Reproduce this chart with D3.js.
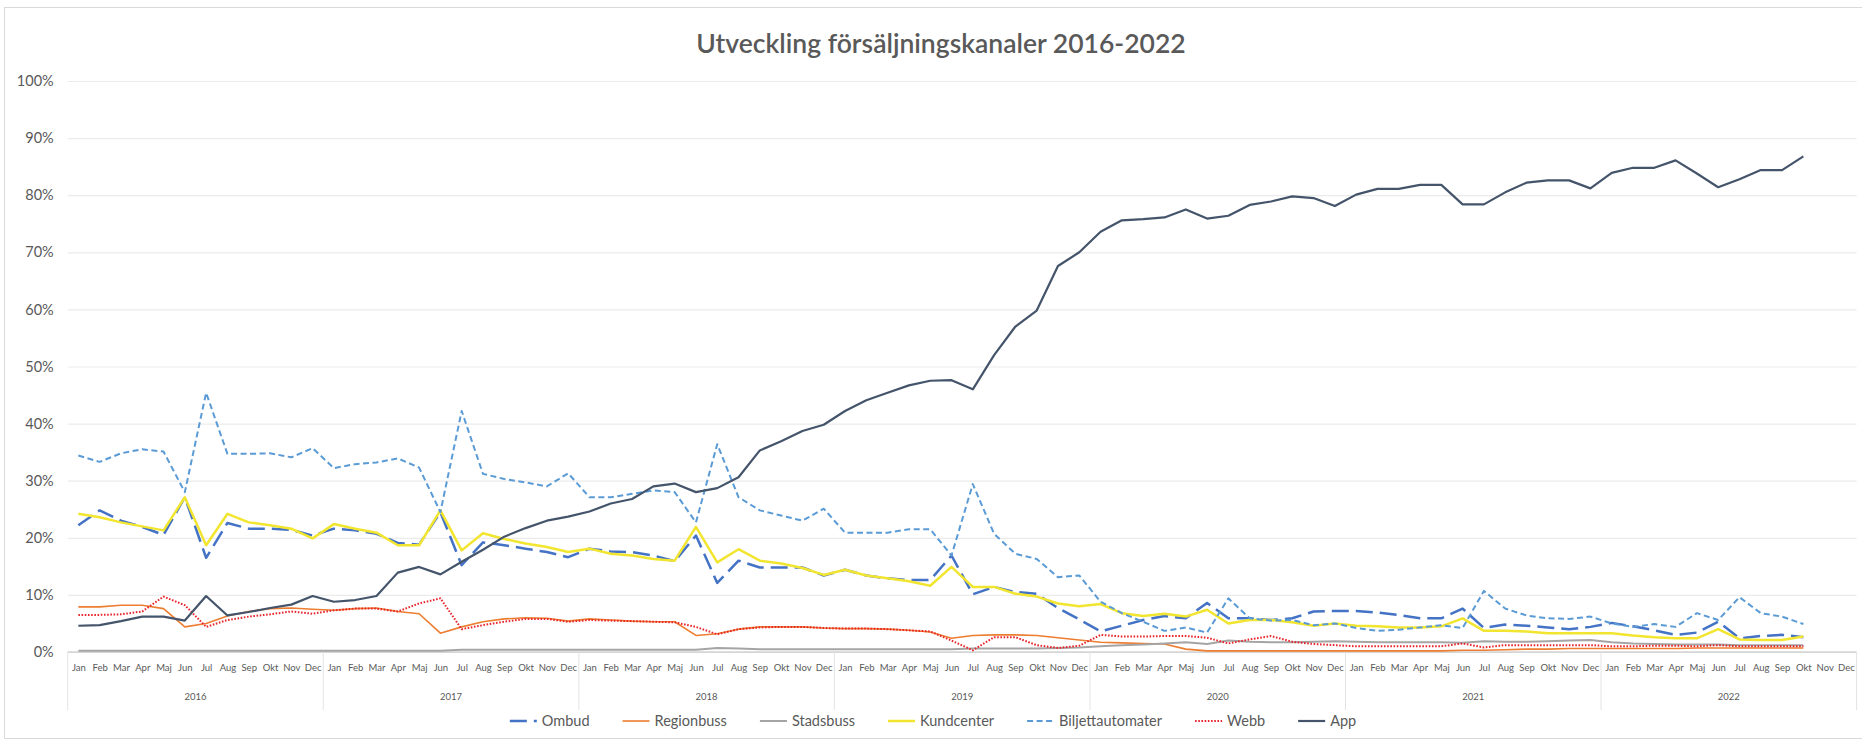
<!DOCTYPE html>
<html>
<head>
<meta charset="utf-8">
<script src="https://cdn.jsdelivr.net/npm/d3@7"></script>
<style>
  html, body { margin: 0; padding: 0; background: #fff; }
  svg { display: block; }
  text { font-family: Lato, "Open Sans", sans-serif; fill: #595959; }
</style>
</head>
<body>
<svg id="chart" width="1862" height="742"></svg>
<script>
// Month and year labels of the two-level category axis
const months = ["Jan","Feb","Mar","Apr","Maj","Jun","Jul","Aug","Sep","Okt","Nov","Dec"];
const years = ["2016","2017","2018","2019","2020","2021","2022"];
const yTicks = [0,10,20,30,40,50,60,70,80,90,100];

// Share of sales per channel, in percent, Jan 2016 – Okt 2022
const ombud = [
  22.2,24.8,23.0,21.9,20.5,27.1,16.5,22.6,21.6,21.6,21.4,20.4,
  21.6,21.3,20.7,19.1,18.8,24.5,15.2,19.2,18.7,18.1,17.5,16.6,
  18.1,17.6,17.5,16.9,15.9,20.4,12.1,16.0,14.8,14.8,14.8,13.4,
  14.4,13.4,12.9,12.6,12.6,16.9,10.1,11.4,10.5,10.2,7.7,5.7,
  3.6,4.6,5.6,6.3,5.9,8.6,5.9,5.9,5.6,5.9,7.1,7.2,
  7.2,6.9,6.5,5.9,5.9,7.6,4.2,4.8,4.6,4.3,4.0,4.4,
  5.1,4.5,3.8,3.0,3.4,5.3,2.4,2.8,3.0,2.6
];
const regionbuss = [
  7.9,7.9,8.2,8.2,7.6,4.4,5.0,6.3,7.1,7.6,7.7,7.5,
  7.3,7.6,7.7,7.1,6.7,3.3,4.4,5.3,5.8,6.0,5.9,5.4,
  5.8,5.6,5.4,5.3,5.3,2.9,3.2,4.0,4.4,4.4,4.4,4.2,
  4.1,4.1,4.0,3.8,3.5,2.4,2.9,3.0,3.0,2.9,2.5,2.1,
  1.7,1.6,1.5,1.4,0.5,0.2,0.2,0.2,0.2,0.2,0.2,0.2,
  0.2,0.2,0.2,0.2,0.2,0.3,0.3,0.4,0.5,0.5,0.6,0.6,
  0.6,0.6,0.6,0.6,0.7,0.7,0.7,0.7,0.7,0.7
];
const stadsbuss = [
  0.2,0.2,0.2,0.2,0.2,0.2,0.2,0.2,0.2,0.2,0.2,0.2,
  0.2,0.2,0.2,0.2,0.2,0.2,0.4,0.4,0.4,0.4,0.4,0.4,
  0.4,0.4,0.4,0.4,0.4,0.4,0.7,0.6,0.5,0.5,0.5,0.5,
  0.5,0.5,0.5,0.5,0.5,0.5,0.6,0.6,0.6,0.6,0.7,0.8,
  1.0,1.2,1.3,1.5,1.7,1.4,2.0,1.8,1.7,1.7,1.8,1.9,
  1.8,1.7,1.7,1.7,1.7,1.6,1.9,1.8,1.8,1.9,2.0,2.1,
  1.7,1.5,1.4,1.3,1.3,1.3,1.2,1.2,1.2,1.2
];
const kundcenter = [
  24.2,23.6,22.7,22.0,21.3,27.1,18.7,24.2,22.7,22.2,21.6,19.9,
  22.4,21.6,20.9,18.7,18.7,24.8,17.8,20.8,19.8,19.0,18.4,17.5,
  18.1,17.2,16.9,16.3,16.0,21.9,15.7,18.0,16.0,15.5,14.7,13.5,
  14.4,13.4,12.9,12.4,11.6,14.9,11.4,11.4,10.2,9.7,8.5,8.0,
  8.4,6.8,6.3,6.7,6.2,7.4,5.0,5.6,5.6,5.2,4.6,5.0,
  4.6,4.5,4.3,4.3,4.5,5.9,3.7,3.7,3.6,3.3,3.3,3.3,
  3.3,2.9,2.6,2.4,2.4,4.0,2.2,2.1,2.1,2.7
];
const biljettautomater = [
  34.4,33.3,34.8,35.5,35.1,28.0,45.4,34.7,34.7,34.8,34.1,35.7,
  32.2,32.9,33.2,33.9,32.3,24.5,42.2,31.2,30.3,29.7,29.0,31.3,
  27.1,27.1,27.7,28.3,28.0,22.7,36.4,27.1,24.8,23.9,23.0,25.1,
  20.9,20.9,20.9,21.5,21.5,16.9,29.4,20.7,17.2,16.3,13.1,13.4,
  8.8,6.8,5.3,3.7,4.3,3.4,9.4,5.9,5.5,5.6,4.7,5.0,
  4.2,3.7,3.9,4.3,4.7,4.2,10.7,7.6,6.4,5.9,5.8,6.2,
  5.0,4.4,4.9,4.4,6.8,5.6,9.6,6.8,6.2,4.9
];
const webb = [
  6.5,6.5,6.6,7.1,9.7,8.2,4.4,5.6,6.2,6.6,7.1,6.7,
  7.3,7.6,7.6,7.1,8.5,9.4,4.0,4.7,5.3,5.8,5.8,5.3,
  5.6,5.5,5.4,5.3,5.2,4.4,3.1,4.0,4.3,4.4,4.4,4.2,
  4.1,4.1,4.0,3.8,3.6,2.0,0.3,2.6,2.6,1.2,0.7,1.1,
  3.0,2.7,2.7,2.8,2.8,2.5,1.5,2.2,2.8,1.8,1.4,1.2,
  1.0,1.0,1.0,1.0,1.0,1.5,0.8,1.2,1.2,1.2,1.2,1.2,
  1.0,1.0,1.1,1.1,1.0,1.2,1.0,1.0,1.0,1.0
];
const app = [
  4.6,4.7,5.4,6.2,6.2,5.5,9.8,6.4,7.0,7.7,8.3,9.8,
  8.8,9.1,9.8,13.9,14.9,13.6,15.8,17.9,20.2,21.7,23.0,23.7,
  24.6,26.0,26.8,29.0,29.5,28.0,28.7,30.6,35.3,36.9,38.7,39.8,
  42.2,44.1,45.4,46.7,47.5,47.6,46.0,52.0,57.0,59.8,67.6,70.0,
  73.6,75.6,75.8,76.1,77.5,75.9,76.4,78.3,78.9,79.8,79.5,78.1,
  80.1,81.1,81.1,81.8,81.8,78.4,78.4,80.5,82.2,82.6,82.6,81.2,
  83.9,84.8,84.8,86.1,83.8,81.4,82.8,84.4,84.4,86.8
];

const seriesNames = ["Ombud","Regionbuss","Stadsbuss","Kundcenter","Biljettautomater","Webb","App"];
const seriesValues = [ombud, regionbuss, stadsbuss, kundcenter, biljettautomater, webb, app];

// Line styling per channel (colour, width, dash)
const styles = {
  "Ombud":            { color: "#4472C4", width: 2.5, dash: "17,7" },
  "Regionbuss":       { color: "#ED7D31", width: 1.6, dash: null },
  "Stadsbuss":        { color: "#A5A5A5", width: 2.0, dash: null },
  "Kundcenter":       { color: "#F2E530", width: 2.5, dash: null },
  "Biljettautomater": { color: "#5B9BD5", width: 2.0, dash: "6,3.5" },
  "Webb":             { color: "#E8252B", width: 2.0, dash: "1.6,1.6" },
  "App":              { color: "#44546A", width: 2.2, dash: null }
};

const svg = d3.select("#chart");
const W = 1862, H = 742;
const plot = { left: 67.7, right: 1856.6, top: 81, bottom: 652 };
const fontStack = "Lato, 'Open Sans', sans-serif";

// Chart area border
svg.append("rect")
  .attr("x", 4.5).attr("y", 7.5)
  .attr("width", W).attr("height", H - 11)
  .attr("fill", "#fff").attr("stroke", "#D9D9D9");

const categories = [];
years.forEach(y => months.forEach(m => categories.push(y + "-" + m)));

const x = d3.scalePoint().domain(categories).range([plot.left, plot.right]).padding(0.5);
const y = d3.scaleLinear().domain([0, 100]).range([plot.bottom, plot.top]);

// Horizontal gridlines and percent labels
const yAxis = d3.axisLeft(y).tickValues(yTicks).tickSize(-(plot.right - plot.left))
  .tickFormat(d => d + "%").tickPadding(14);
const gy = svg.append("g").attr("transform", `translate(${plot.left},0)`).call(yAxis);
gy.select(".domain").remove();
gy.selectAll(".tick line").attr("stroke", "#EBEBEB").attr("stroke-width", 1.2);
gy.selectAll(".tick text").attr("font-size", 14.5).attr("fill", "#595959")
  .style("font-family", fontStack);

// Category axis line
svg.append("line")
  .attr("x1", plot.left).attr("x2", plot.right)
  .attr("y1", y(0)).attr("y2", y(0))
  .attr("stroke", "#BFBFBF").attr("stroke-width", 1.2);

// Month labels
const xAxis = d3.axisBottom(x).tickSize(0).tickPadding(12).tickFormat(d => d.split("-")[1]);
const gx = svg.append("g").attr("transform", `translate(0,${y(0)})`).call(xAxis);
gx.select(".domain").remove();
gx.selectAll(".tick text").attr("font-size", 9.5).attr("fill", "#595959")
  .style("font-family", fontStack);

// Year separators and year labels
const yearBand = d3.scaleBand().domain(years).range([plot.left, plot.right]);
svg.selectAll("line.yearSep").data(d3.range(years.length + 1)).join("line")
  .attr("class", "yearSep")
  .attr("x1", i => plot.left + i * yearBand.step())
  .attr("x2", i => plot.left + i * yearBand.step())
  .attr("y1", y(0)).attr("y2", 710)
  .attr("stroke", "#E3E3E3").attr("stroke-width", 1);
svg.selectAll("text.year").data(years).join("text")
  .attr("class", "year")
  .attr("x", d => yearBand(d) + yearBand.bandwidth() / 2)
  .attr("y", 697).attr("dy", "0.35em")
  .attr("text-anchor", "middle").attr("font-size", 9.5)
  .text(d => d);

// Series lines
const line = d3.line()
  .x((d, i) => x(categories[i]))
  .y(d => y(d));
const gLines = svg.append("g");
seriesNames.forEach((name, k) => {
  const s = styles[name];
  gLines.append("path")
    .datum(seriesValues[k])
    .attr("fill", "none")
    .attr("stroke", s.color)
    .attr("stroke-width", s.width)
    .attr("stroke-dasharray", s.dash)
    .attr("stroke-linejoin", "round")
    .attr("d", line);
});

// Title
svg.append("text")
  .attr("x", 941).attr("y", 44).attr("dy", "0.35em")
  .attr("text-anchor", "middle")
  .attr("font-size", 26.5).attr("font-weight", 600)
  .attr("fill", "#595959")
  .text("Utveckling försäljningskanaler 2016-2022");

// Legend
const legend = svg.append("g");
const sampleLen = 27, textOffset = 32, itemGap = 33;
let lx = 0;
seriesNames.forEach(name => {
  const s = styles[name];
  const g = legend.append("g").attr("transform", `translate(${lx},0)`);
  g.append("line").attr("x1", 0).attr("x2", sampleLen).attr("y1", 0).attr("y2", 0)
    .attr("stroke", s.color).attr("stroke-width", s.width)
    .attr("stroke-dasharray", s.dash);
  const t = g.append("text").attr("x", textOffset).attr("dy", "0.35em")
    .attr("font-size", 14.5).text(name);
  const w = t.node().getComputedTextLength();
  lx += textOffset + w + itemGap;
});
const legendW = lx - itemGap;
legend.attr("transform", `translate(${933 - legendW / 2},721)`);
</script>
</body>
</html>
